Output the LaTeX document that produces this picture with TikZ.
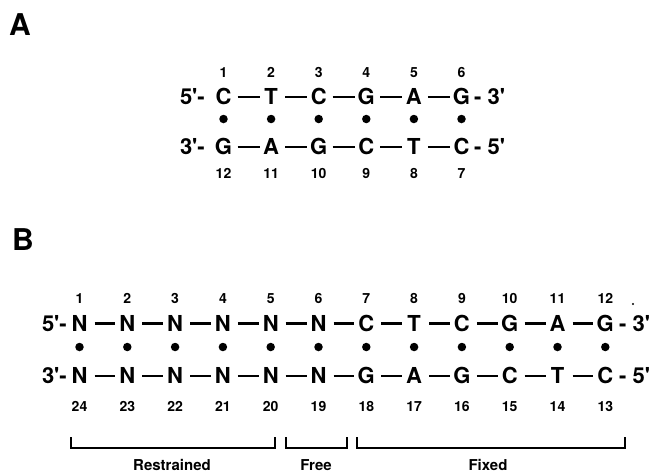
\documentclass[tikz,border=0pt]{standalone}
\usepackage{fontspec}
\setmainfont{TeX Gyre Heros}
\begin{document}
\begin{tikzpicture}[x=1pt,y=-1pt,
  base/.style={font=\fontsize{22}{22}\selectfont\bfseries, inner sep=0pt,
    text height=15.8pt, text depth=0pt},
  num/.style={font=\fontsize{14}{14}\selectfont\bfseries, inner sep=0pt,
    text height=10pt, text depth=0pt},
  panel/.style={font=\fontsize{30}{30}\selectfont\bfseries, inner sep=0pt,
    text height=21pt, text depth=0pt},
  region/.style={font=\fontsize{15}{15}\selectfont\bfseries, inner sep=0pt,
    text height=10.8pt, text depth=0pt},
  pairdot/.style={circle, fill=black, inner sep=0pt, minimum size=8.5pt},
  bond/.style={line width=2.4pt},
  bracket/.style={line width=1.3pt},
  ]
\useasboundingbox (0,0) rectangle (656,475);

% ---------------- Panel A: 6-mer duplex ----------------
\node[panel] (labA) at (20,25) {A};

\foreach \b [count=\i] in {C,T,C,G,A,G}
  \node[base] (at\i) at ({223.5+47.6*(\i-1)},97) {\b};
\foreach \b [count=\i] in {G,A,G,C,T,C}
  \node[base] (ab\i) at ({223.5+47.6*(\i-1)},147) {\b};
\foreach \i in {1,...,6} {
  \node[num] (ant\i) at ({223.5+47.6*(\i-1)},72) {\i};
  \pgfmathtruncatemacro{\k}{13-\i}
  \node[num] (anb\i) at ({223.5+47.6*(\i-1)},173) {\k};
  \node[pairdot] (ad\i) at ({223.5+47.6*(\i-1)},119) {};
}
\foreach \i [evaluate=\i as \j using int(\i+1)] in {1,...,5} {
  \draw[bond] ([xshift=14pt]at\i.center) -- ([xshift=-11.6pt]at\j.center);
  \draw[bond] ([xshift=14pt]ab\i.center) -- ([xshift=-11.6pt]ab\j.center);
}
\node[base, anchor=east] (aft) at (205,97) {5\textquotesingle-};
\node[base, anchor=east] (afb) at (205,147) {3\textquotesingle-};
\node[base, anchor=west] (aet) at (474,97) {- 3\textquotesingle};
\node[base, anchor=west] (aeb) at (474,147) {- 5\textquotesingle};

% ---------------- Panel B: 12-mer duplex ----------------
\node[panel] (labB) at (23,240) {B};

\foreach \b [count=\i] in {N,N,N,N,N,N,C,T,C,G,A,G}
  \node[base] (bt\i) at ({79.5+47.8*(\i-1)},323.5) {\b};
\foreach \b [count=\i] in {N,N,N,N,N,N,G,A,G,C,T,C}
  \node[base] (bb\i) at ({79.5+47.8*(\i-1)},376) {\b};
\foreach \i in {1,...,12} {
  \node[num] (bnt\i) at ({79.5+47.8*(\i-1)},298) {\i};
  \pgfmathtruncatemacro{\k}{25-\i}
  \node[num] (bnb\i) at ({79.5+47.8*(\i-1)},406) {\k};
  \node[pairdot] (bd\i) at ({79.5+47.8*(\i-1)},347) {};
}
\foreach \i [evaluate=\i as \j using int(\i+1)] in {1,...,11} {
  \draw[bond] ([xshift=15pt]bt\i.center) -- ([xshift=-12pt]bt\j.center);
  \draw[bond] ([xshift=15pt]bb\i.center) -- ([xshift=-12pt]bb\j.center);
}
\node[base, anchor=east] (bft) at (67,323.5) {5\textquotesingle-};
\node[base, anchor=east] (bfb) at (67,376) {3\textquotesingle-};
\node[base, anchor=west] (bet) at (619,323.5) {- 3\textquotesingle};
\node[base, anchor=west] (beb) at (619,376) {- 5\textquotesingle};
\node[circle, fill=black, inner sep=0pt, minimum size=2.2pt] (stop) at (633,304) {};

% region brackets
\coordinate (rl) at (71,437);  \coordinate (rr) at (275,437);
\coordinate (fl) at (286,437); \coordinate (fr) at (347,437);
\coordinate (xl) at (357,437); \coordinate (xr) at (625,437);
\draw[bracket] (rl) -- ++(0,11) -| (rr);
\draw[bracket] (fl) -- ++(0,11) -| (fr);
\draw[bracket] (xl) -- ++(0,11) -| (xr);
\node[region] (restr) at (172,465.5) {Restrained};
\node[region] (free) at (316,465.5) {Free};
\node[region] (fixed) at (488,465.5) {Fixed};
\end{tikzpicture}
\end{document}
